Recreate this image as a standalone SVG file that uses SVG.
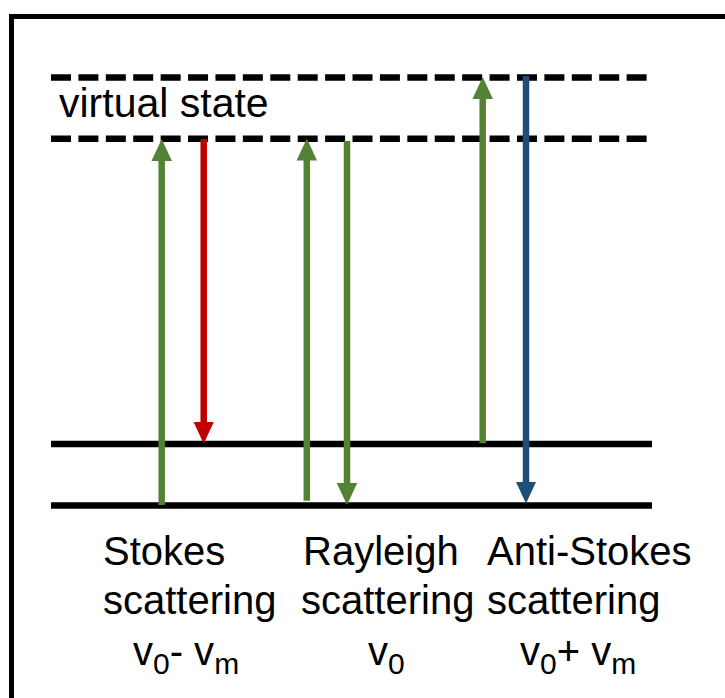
<svg xmlns="http://www.w3.org/2000/svg" width="725" height="698" viewBox="0 0 725 698">
<style>
.lvl{stroke:#000;stroke-width:6.5;fill:none}
.dash{stroke-dasharray:20 7.41}
.sh{stroke-width:6.5;fill:none}
.g{stroke:#548235}.r{stroke:#C00000}.b{stroke:#1F4E79}
text{font-family:"Liberation Sans",Arial,sans-serif;fill:#000}
.lab{font-size:40px}
.sub{font-size:30px}
</style>
<defs>
<marker id="hg" markerUnits="userSpaceOnUse" markerWidth="22" markerHeight="21" refX="1" refY="10.25" orient="auto" viewBox="0 0 22 20.5"><path d="M0,0 L22,10.25 L0,20.5 z" fill="#548235"/></marker>
<marker id="hr" markerUnits="userSpaceOnUse" markerWidth="22" markerHeight="21" refX="1" refY="10.25" orient="auto" viewBox="0 0 22 20.5"><path d="M0,0 L22,10.25 L0,20.5 z" fill="#C00000"/></marker>
<marker id="hb" markerUnits="userSpaceOnUse" markerWidth="22" markerHeight="21" refX="1" refY="10.25" orient="auto" viewBox="0 0 22 20.5"><path d="M0,0 L22,10.25 L0,20.5 z" fill="#1F4E79"/></marker>
</defs>
<rect id="frame" x="11.5" y="16.5" width="760" height="740" fill="none" stroke="#000" stroke-width="5"/>
<g id="levels">
<line id="virtual-upper" class="lvl dash" x1="51" y1="77.5" x2="648" y2="77.5"/>
<line id="virtual-lower" class="lvl dash" x1="51" y1="138.7" x2="648" y2="138.7"/>
<line id="vib-level" class="lvl" x1="51" y1="444" x2="652" y2="444"/>
<line id="ground-level" class="lvl" x1="51" y1="505.5" x2="652" y2="505.5"/>
</g>
<g id="virtual-state-label"><text x="59" y="117" font-size="41">virtual state</text></g>
<g id="connectors">
<line class="sh g" x1="161.7" y1="505" x2="161.7" y2="160" marker-end="url(#hg)"/>
<line class="sh r" x1="203.7" y1="139" x2="203.7" y2="422.7" marker-end="url(#hr)"/>
<line class="sh g" x1="306.8" y1="500.7" x2="306.8" y2="159.5" marker-end="url(#hg)"/>
<line class="sh g" x1="347" y1="141" x2="347" y2="484" marker-end="url(#hg)"/>
<line class="sh g" x1="482.7" y1="443.3" x2="482.7" y2="98" marker-end="url(#hg)"/>
<line class="sh b" x1="526" y1="76" x2="526" y2="482.5" marker-end="url(#hb)"/>
</g>
<g id="stokes">
<text class="lab" x="103" y="565">Stokes</text>
<text class="lab" x="103" y="614">scattering</text>
<text class="lab" x="133" y="665">v<tspan class="sub" dy="9">0</tspan><tspan dy="-9">- v</tspan><tspan class="sub" dy="9">m</tspan></text>
</g>
<g id="rayleigh">
<text class="lab" x="303" y="565">Rayleigh</text>
<text class="lab" x="301" y="614">scattering</text>
<text class="lab" x="368" y="665">v<tspan class="sub" dy="9">0</tspan></text>
</g>
<g id="anti-stokes">
<text class="lab" x="487" y="565">Anti-Stokes</text>
<text class="lab" x="487" y="614">scattering</text>
<text class="lab" x="520" y="665">v<tspan class="sub" dy="9">0</tspan><tspan dy="-9">+ v</tspan><tspan class="sub" dy="9">m</tspan></text>
</g>
</svg>
